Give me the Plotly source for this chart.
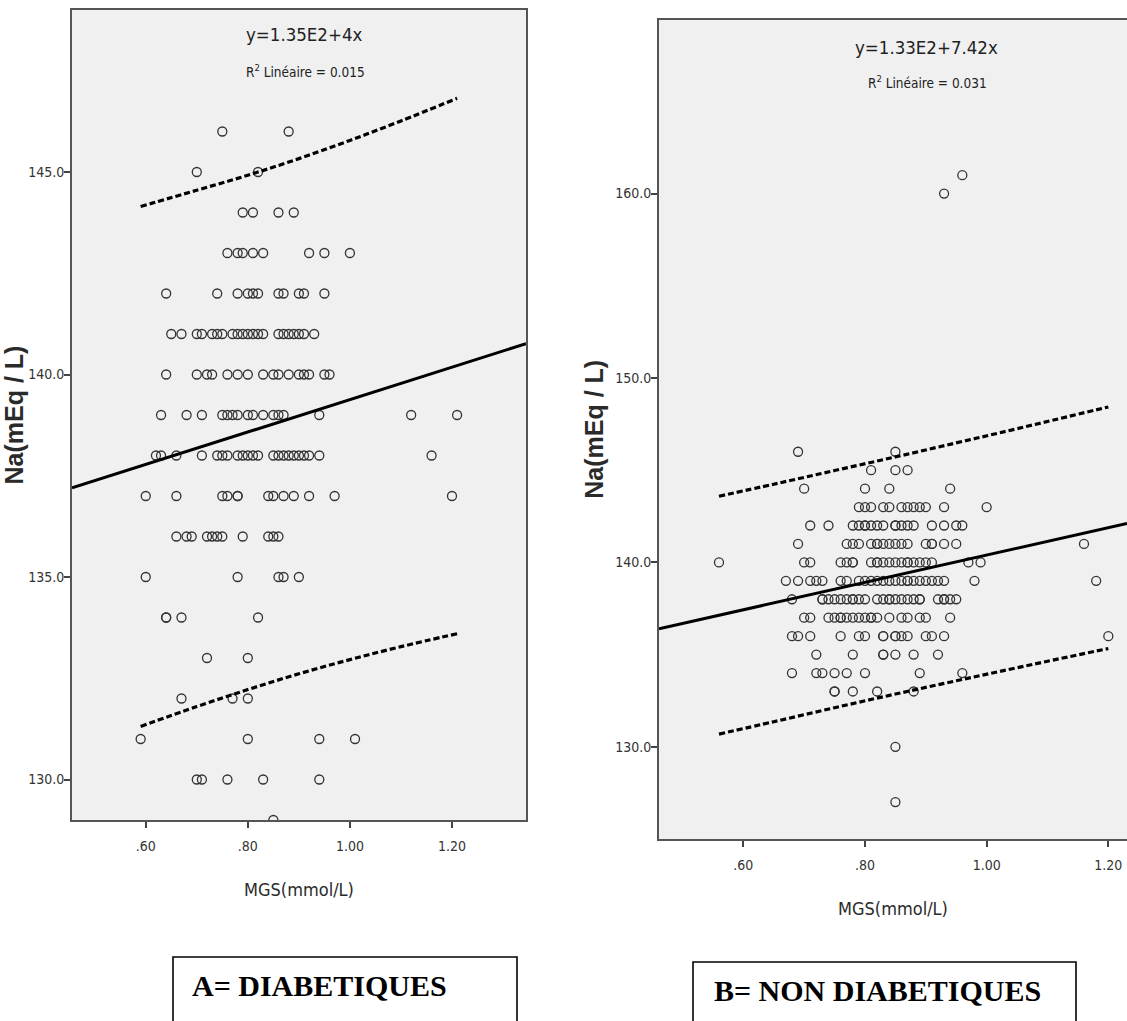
import plotly.graph_objects as go

# ---------------- Panel A : DIABETIQUES (MGS mmol/L vs Na mEq/L) ----------------
a_na_levels = [146, 145, 144, 143, 142, 141, 140, 139, 138, 137, 136, 135, 134, 133, 132, 131, 130, 129]
a_mgs_146 = [0.75, 0.88]
a_mgs_145 = [0.70, 0.82]
a_mgs_144 = [0.79, 0.81, 0.86, 0.89]
a_mgs_143 = [0.76, 0.78, 0.79, 0.81, 0.83, 0.92, 0.95, 1.00]
a_mgs_142 = [0.64, 0.74, 0.78, 0.80, 0.81, 0.82, 0.86, 0.87, 0.90, 0.91, 0.95]
a_mgs_141 = [0.65, 0.67, 0.70, 0.71, 0.73, 0.74, 0.75, 0.77, 0.78, 0.79, 0.80, 0.81, 0.82, 0.83,
             0.86, 0.87, 0.88, 0.89, 0.90, 0.91, 0.93]
a_mgs_140 = [0.64, 0.70, 0.72, 0.73, 0.76, 0.78, 0.80, 0.83, 0.85, 0.86, 0.88, 0.90, 0.91, 0.92, 0.95, 0.96]
a_mgs_139 = [0.63, 0.68, 0.71, 0.75, 0.76, 0.77, 0.78, 0.80, 0.81, 0.83, 0.85, 0.86, 0.87, 0.94, 1.12, 1.21]
a_mgs_138 = [0.62, 0.63, 0.66, 0.71, 0.74, 0.75, 0.76, 0.78, 0.79, 0.80, 0.81, 0.82, 0.85, 0.86, 0.87,
             0.88, 0.89, 0.90, 0.91, 0.92, 0.94, 1.16]
a_mgs_137 = [0.60, 0.66, 0.75, 0.76, 0.78, 0.78, 0.84, 0.85, 0.87, 0.89, 0.92, 0.97, 1.20]
a_mgs_136 = [0.66, 0.68, 0.69, 0.72, 0.73, 0.74, 0.75, 0.79, 0.84, 0.85, 0.86]
a_mgs_135 = [0.60, 0.78, 0.86, 0.87, 0.90]
a_mgs_134 = [0.64, 0.64, 0.67, 0.82]
a_mgs_133 = [0.72, 0.80]
a_mgs_132 = [0.67, 0.77, 0.80]
a_mgs_131 = [0.59, 0.80, 0.94, 1.01]
a_mgs_130 = [0.70, 0.71, 0.76, 0.83, 0.94]
a_mgs_129 = [0.85]

a_fit_intercept = 135.38
a_fit_slope = 4.0
a_band_x = [0.59, 0.70, 0.80, 0.90, 1.00, 1.10, 1.21]
a_band_upper = [144.15, 144.55, 144.92, 145.33, 145.78, 146.26, 146.82]
a_band_lower = [131.31, 131.80, 132.22, 132.61, 132.96, 133.28, 133.60]

# ---------------- Panel B : NON DIABETIQUES ----------------
b_na_levels = [161, 160, 146, 145, 144, 143, 142, 141, 140, 139, 138, 137, 136, 135, 134, 133, 130, 127]
b_mgs_161 = [0.96]
b_mgs_160 = [0.93]
b_mgs_146 = [0.69, 0.85]
b_mgs_145 = [0.81, 0.85, 0.87]
b_mgs_144 = [0.70, 0.80, 0.84, 0.94]
b_mgs_143 = [0.79, 0.80, 0.81, 0.83, 0.84, 0.86, 0.87, 0.88, 0.89, 0.90, 0.93, 1.00]
b_mgs_142 = [0.71, 0.74, 0.78, 0.79, 0.80, 0.80, 0.81, 0.82, 0.83, 0.85, 0.85, 0.86, 0.87, 0.88,
             0.91, 0.93, 0.95, 0.96]
b_mgs_141 = [0.69, 0.77, 0.78, 0.79, 0.81, 0.82, 0.82, 0.83, 0.84, 0.85, 0.86, 0.87, 0.90, 0.91,
             0.91, 0.93, 0.95, 1.16]
b_mgs_140 = [0.56, 0.70, 0.71, 0.76, 0.77, 0.78, 0.78, 0.81, 0.82, 0.82, 0.83, 0.84, 0.85, 0.86,
             0.87, 0.87, 0.88, 0.89, 0.90, 0.91, 0.97, 0.99]
b_mgs_139 = [0.67, 0.69, 0.71, 0.72, 0.73, 0.76, 0.77, 0.79, 0.80, 0.81, 0.82, 0.83, 0.84, 0.85,
             0.86, 0.87, 0.87, 0.88, 0.89, 0.90, 0.91, 0.92, 0.93, 0.98, 1.18]
b_mgs_138 = [0.68, 0.73, 0.73, 0.74, 0.75, 0.76, 0.77, 0.78, 0.78, 0.79, 0.80, 0.82, 0.83, 0.84,
             0.84, 0.85, 0.86, 0.87, 0.88, 0.89, 0.89, 0.92, 0.93, 0.93, 0.94, 0.95]
b_mgs_137 = [0.70, 0.71, 0.74, 0.75, 0.76, 0.76, 0.77, 0.78, 0.79, 0.80, 0.81, 0.81, 0.82, 0.84,
             0.86, 0.87, 0.89, 0.90, 0.94]
b_mgs_136 = [0.68, 0.69, 0.71, 0.76, 0.79, 0.80, 0.83, 0.83, 0.85, 0.85, 0.86, 0.87, 0.90, 0.91, 0.93, 1.20]
b_mgs_135 = [0.72, 0.78, 0.83, 0.83, 0.85, 0.88, 0.92]
b_mgs_134 = [0.68, 0.72, 0.73, 0.75, 0.77, 0.80, 0.89, 0.96]
b_mgs_133 = [0.75, 0.75, 0.78, 0.82, 0.88]
b_mgs_130 = [0.85]
b_mgs_127 = [0.85]

b_fit_intercept = 132.98
b_fit_slope = 7.42
b_band_x = [0.56, 0.65, 0.75, 0.85, 0.95, 1.05, 1.20]
b_band_upper = [143.59, 144.24, 144.98, 145.72, 146.48, 147.25, 148.43]
b_band_lower = [130.69, 131.36, 132.12, 132.86, 133.58, 134.29, 135.33]

# ---------------- texts / ticks ----------------
x_tick_vals = [0.6, 0.8, 1.0, 1.2]
x_tick_text = [".60", ".80", "1.00", "1.20"]
a_y_tick_vals = [130, 135, 140, 145]
b_y_tick_vals = [130, 140, 150, 160]
a_equation = "y=1.35E2+4x"
a_r2 = "R<sup>2</sup> Linéaire = 0.015"
b_equation = "y=1.33E2+7.42x"
b_r2 = "R<sup>2</sup> Linéaire = 0.031"
x_title = "MGS(mmol/L)"
y_title = "Na(mEq / L)"
a_label = "A= DIABETIQUES"
b_label = "B= NON DIABETIQUES"

a_rows = [a_mgs_146, a_mgs_145, a_mgs_144, a_mgs_143, a_mgs_142, a_mgs_141, a_mgs_140, a_mgs_139,
          a_mgs_138, a_mgs_137, a_mgs_136, a_mgs_135, a_mgs_134, a_mgs_133, a_mgs_132, a_mgs_131,
          a_mgs_130, a_mgs_129]
b_rows = [b_mgs_161, b_mgs_160, b_mgs_146, b_mgs_145, b_mgs_144, b_mgs_143, b_mgs_142, b_mgs_141,
          b_mgs_140, b_mgs_139, b_mgs_138, b_mgs_137, b_mgs_136, b_mgs_135, b_mgs_134, b_mgs_133,
          b_mgs_130, b_mgs_127]


def flatten(levels, rows):
    xs, ys = [], []
    for lvl, row in zip(levels, rows):
        for v in row:
            xs.append(v)
            ys.append(lvl)
    return xs, ys


a_x, a_y = flatten(a_na_levels, a_rows)
b_x, b_y = flatten(b_na_levels, b_rows)

W, H = 1127, 1021
NARROW = "DejaVu Sans Condensed, Liberation Sans Narrow, Arial Narrow, sans-serif"
SANS = "Liberation Sans, Arial, sans-serif"
SERIF = "Liberation Serif, Times New Roman, serif"


def px(x):
    return x / W


def py(y):
    return 1 - y / H


a_xrange = [0.4555, 1.345]
a_yrange = [129, 149]
b_xrange = [0.4614, 1.2307]
b_yrange = [125, 169.44]

marker = dict(symbol="circle-open", size=9, line=dict(color="#333333", width=1.3), color="#333333")
band_line = dict(color="black", width=3.2, dash="6px,3px", shape="spline")

fig = go.Figure()

# Panel A
fig.add_trace(go.Scatter(x=a_x, y=a_y, mode="markers", marker=marker, xaxis="x", yaxis="y",
                         name="Diabétiques"))
fig.add_trace(go.Scatter(x=a_xrange, y=[a_fit_intercept + a_fit_slope * v for v in a_xrange],
                         mode="lines", line=dict(color="black", width=3), xaxis="x", yaxis="y"))
fig.add_trace(go.Scatter(x=a_band_x, y=a_band_upper, mode="lines", line=band_line, xaxis="x", yaxis="y"))
fig.add_trace(go.Scatter(x=a_band_x, y=a_band_lower, mode="lines", line=band_line, xaxis="x", yaxis="y"))

# Panel B
fig.add_trace(go.Scatter(x=b_x, y=b_y, mode="markers", marker=marker, xaxis="x2", yaxis="y2",
                         name="Non diabétiques"))
fig.add_trace(go.Scatter(x=b_xrange, y=[b_fit_intercept + b_fit_slope * v for v in b_xrange],
                         mode="lines", line=dict(color="black", width=3), xaxis="x2", yaxis="y2"))
fig.add_trace(go.Scatter(x=b_band_x, y=b_band_upper, mode="lines", line=band_line, xaxis="x2", yaxis="y2"))
fig.add_trace(go.Scatter(x=b_band_x, y=b_band_lower, mode="lines", line=band_line, xaxis="x2", yaxis="y2"))

tickfont = dict(family=NARROW, size=14, color="#333333")
axis_common = dict(showgrid=False, zeroline=False, showline=True, linecolor="#555555", linewidth=2,
                   ticks="outside", ticklen=6, tickwidth=1.5, tickcolor="#444444", tickfont=tickfont)
xtitle_font = dict(family=NARROW, size=18, color="#2a2a2a")
ytitle_font = dict(family=SANS, size=25, color="#2a2a2a", weight="bold")

fig.update_layout(
    width=W, height=H,
    margin=dict(l=0, r=0, t=0, b=0),
    paper_bgcolor="white",
    plot_bgcolor="#f0f0f0",
    showlegend=False,
    xaxis=dict(domain=[px(72), px(526)], range=a_xrange, tickvals=x_tick_vals, ticktext=x_tick_text,
               anchor="y", mirror=True, ticklabelstandoff=6,
               title=dict(text=x_title, font=xtitle_font, standoff=31), **axis_common),
    yaxis=dict(domain=[py(820), py(10)], range=a_yrange, tickvals=a_y_tick_vals,
               tickformat=".1f", anchor="x", mirror=True, ticklabelstandoff=-3,
               title=dict(text=y_title, font=ytitle_font, standoff=2), **axis_common),
    xaxis2=dict(domain=[px(659), 1.0], range=b_xrange, tickvals=x_tick_vals, ticktext=x_tick_text,
                anchor="y2", mirror=True, ticklabelstandoff=6,
                title=dict(text=x_title, font=xtitle_font, standoff=31), **axis_common),
    yaxis2=dict(domain=[py(839), py(19.5)], range=b_yrange, tickvals=b_y_tick_vals,
                tickformat=".1f", anchor="x2", mirror=False, ticklabelstandoff=-3,
                title=dict(text=y_title, font=ytitle_font, standoff=4), **axis_common),
)

ann = []


def add_text(text, x, y, size, family, color="#222222", xanchor="center", weight="normal"):
    ann.append(dict(text=text, x=px(x), y=py(y), xref="paper", yref="paper", showarrow=False,
                    xanchor=xanchor, yanchor="middle",
                    font=dict(family=family, size=size, color=color, weight=weight)))


add_text(a_equation, 304, 34, 18.5, NARROW)
add_text(a_r2, 305, 71, 13.5, NARROW)
add_text(b_equation, 926, 47, 18.5, NARROW)
add_text(b_r2, 927, 82, 13.5, NARROW)
add_text(a_label, 190, 985, 30, SERIF, color="black", xanchor="left", weight="bold")
add_text(b_label, 712, 990, 30, SERIF, color="black", xanchor="left", weight="bold")

fig.update_layout(annotations=ann)

fig.add_shape(type="rect", xref="paper", yref="paper", x0=px(173), x1=px(517), y0=py(957), y1=-0.2,
              line=dict(color="black", width=1.6), fillcolor="rgba(0,0,0,0)")
fig.add_shape(type="rect", xref="paper", yref="paper", x0=px(693), x1=px(1076), y0=py(962), y1=-0.2,
              line=dict(color="black", width=1.6), fillcolor="rgba(0,0,0,0)")

fig.write_html("out.html")
